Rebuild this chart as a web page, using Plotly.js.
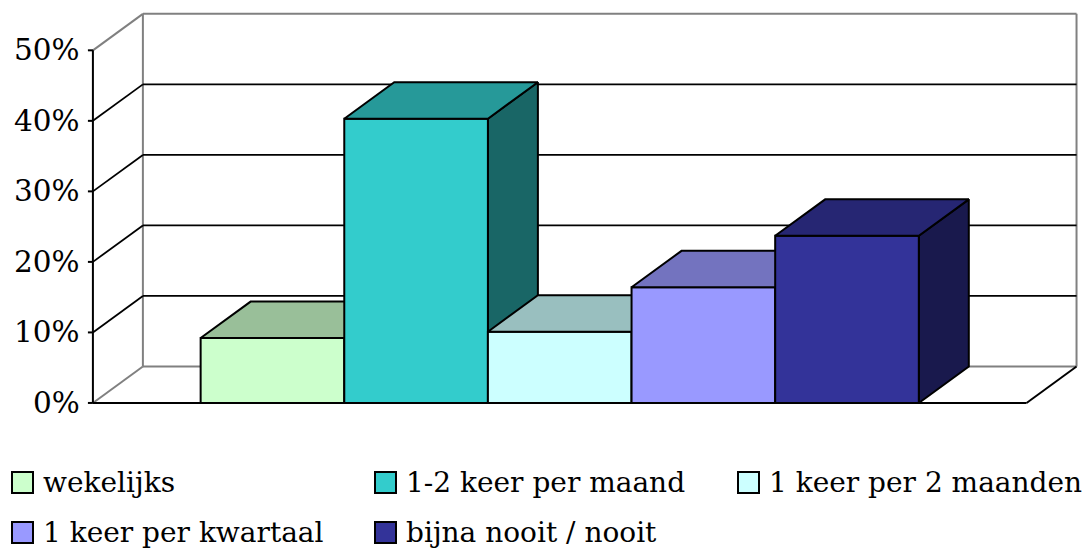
<!DOCTYPE html>
<html>
<head>
<meta charset="utf-8">
<script src="https://cdn.plot.ly/plotly-3.0.1.min.js"></script>
<style>html,body{margin:0;padding:0;background:#fff;}#chart{width:1090px;height:550px;}</style>
</head>
<body>
<div id="chart"></div>
<script>
// ---- data ----
const categories = ['wekelijks', '1-2 keer per maand', '1 keer per 2 maanden', '1 keer per kwartaal', 'bijna nooit / nooit'];
const values = [9.2, 40.3, 10.1, 16.4, 23.7];
const tickVals = [0, 10, 20, 30, 40, 50];
const tickLabels = ['0%', '10%', '20%', '30%', '40%', '50%'];
const frontColors = ['#CCFFCC', '#33CCCC', '#CCFFFF', '#9999FF', '#333399'];
const topColors = ['#99BF99', '#269999', '#99BFBF', '#7373BF', '#262673'];
const sideColors = ['#668066', '#196666', '#668080', '#4D4D80', '#19194D'];

// ---- geometry / style constants ----
const W = 1090, H = 550;
const M = {l: 57, r: 6, t: 8, b: 140};
const XR = [-1.5, 5.65], YR = [-1, 56];
const GAP = 0.75;          // gap on each side of the bar group (bar widths)
const DX = 0.348, DY = 5.17; // 3-D depth offset in data units
const FONT = 'DejaVu Serif';
const GRAY = '#808080';
const n = values.length;
const fx0 = -0.5 - GAP, fx1 = n - 0.5 + GAP;
const yMax = tickVals[tickVals.length - 1];

const traces = [];
function seg(list, color, width) {
  const x = [], y = [];
  list.forEach(s => { x.push(s[0], s[2], null); y.push(s[1], s[3], null); });
  traces.push({type: 'scatter', mode: 'lines', x, y, line: {color, width}, hoverinfo: 'skip', showlegend: false});
}
function poly(pts, fill) {
  traces.push({type: 'scatter', mode: 'lines', fill: 'toself', fillcolor: fill,
    x: pts.map(p => p[0]).concat([pts[0][0]]), y: pts.map(p => p[1]).concat([pts[0][1]]),
    line: {color: '#000', width: 2}, hoverinfo: 'skip', showlegend: false});
}

// walls & floor – gray edges
seg([
  [fx0 + DX, DY, fx0 + DX, yMax + DY],
  [fx0 + DX, yMax + DY, fx1 + DX, yMax + DY],
  [fx1 + DX, yMax + DY, fx1 + DX, DY],
  [fx0 + DX, DY, fx1 + DX, DY],
  [fx0, yMax, fx0 + DX, yMax + DY],
  [fx0, 0, fx0 + DX, DY]
], GRAY, 2);
// gridlines (back wall & side wall)
const inner = tickVals.slice(1, -1);
seg(inner.map(v => [fx0 + DX, v + DY, fx1 + DX, v + DY]).concat(inner.map(v => [fx0, v, fx0 + DX, v + DY])), '#000', 1.8);
// floor front & right edge, axis line, ticks
const tl = 5 / 143.6;
seg([
  [fx0, 0, fx1, 0],
  [fx1, 0, fx1 + DX, DY],
  [fx0, 0, fx0, yMax]
].concat(tickVals.map(v => [fx0 - tl, v, fx0, v])), '#000', 2);

// bars
values.forEach((v, i) => {
  const x0 = i - 0.5, x1 = i + 0.5;
  poly([[x1, 0], [x1 + DX, DY], [x1 + DX, v + DY], [x1, v]], sideColors[i]);
  poly([[x0, 0], [x1, 0], [x1, v], [x0, v]], frontColors[i]);
  poly([[x0, v], [x1, v], [x1 + DX, v + DY], [x0 + DX, v + DY]], topColors[i]);
});

// annotations: tick labels
const pw = W - M.l - M.r, ph = H - M.t - M.b;
const pxX = px => (px - M.l) / pw;
const pxY = py => (H - M.b - py) / ph;
const annotations = tickVals.map((v, i) => ({
  x: fx0, y: v, xref: 'x', yref: 'y', text: tickLabels[i], showarrow: false,
  xanchor: 'right', yanchor: 'middle', xshift: -11, font: {family: FONT, size: 29.5, color: '#000'}
}));

// custom legend
const colX = [12, 375, 738], rowY = [472, 522], SQ = 21;
const shapes = [];
categories.forEach((c, i) => {
  const cx = colX[i % 3], ry = rowY[Math.floor(i / 3)];
  shapes.push({type: 'rect', xref: 'paper', yref: 'paper',
    x0: pxX(cx), x1: pxX(cx + SQ), y0: pxY(ry + SQ), y1: pxY(ry),
    fillcolor: frontColors[i], line: {color: '#000', width: 2}});
  annotations.push({xref: 'paper', yref: 'paper', x: pxX(cx + 29), y: pxY(ry + 10),
    text: c, showarrow: false, xanchor: 'left', yanchor: 'middle',
    font: {family: FONT, size: 28, color: '#000'}});
});

const layout = {
  width: W, height: H, margin: M, paper_bgcolor: '#fff', plot_bgcolor: '#fff',
  showlegend: false, hovermode: false,
  xaxis: {range: XR, visible: false, fixedrange: true},
  yaxis: {range: YR, visible: false, fixedrange: true},
  annotations, shapes
};
Plotly.newPlot('chart', traces, layout, {displayModeBar: false, staticPlot: true});
</script>
</body>
</html>
